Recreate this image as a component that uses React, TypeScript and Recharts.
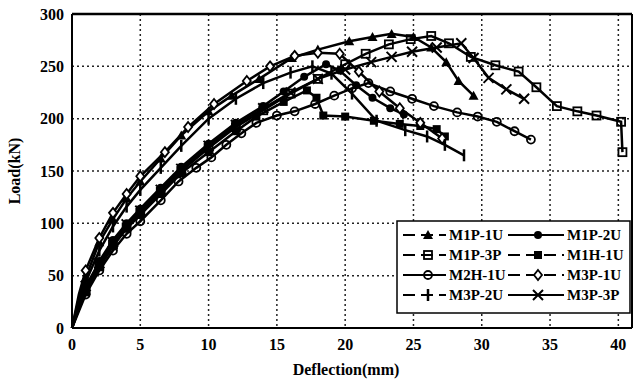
import React from 'react';
import { LineChart, Line, XAxis, YAxis, CartesianGrid, ReferenceLine } from 'recharts';

type Pt = { x: number; y: number };
const pts = (a: number[][]): Pt[] => a.map(([x, y]) => ({ x, y }));

// deflection (mm), load (kN)
const m1p1u = pts([[0,0],[0.5,28],[1,48],[2,82],[3,104],[4,124],[5,140],[6.5,162],[8,184],[10,207],[11.7,222],[13.7,238],[16.1,258],[18,266],[20.3,274],[22,278],[23.4,281],[25,278],[26.3,268],[27.4,254],[28.3,236],[29.4,222]]);
const m1p2u = pts([[0,0],[0.5,20],[1,38],[2,64],[3,84],[4,100],[5,114],[6.5,134],[8,154],[10,176],[12,196],[14,212],[15.5,226],[17,240],[18.6,252],[19.6,246],[20.8,232],[22,220],[23.3,210],[24.3,204]]);
const m1p3p = pts([[0,0],[0.5,19],[1,36],[2,60],[3,80],[4,96],[5,110],[6.5,130],[8,150],[10,172],[12,192],[14,208],[16,224],[18,238],[20,252],[21.5,262],[23.2,271],[24.8,276],[26.3,279],[27.6,272],[29.2,259],[31,251],[32.7,245],[34,230],[35.5,212],[37,207],[38.4,203],[40.2,197],[40.3,168]]);
const m1h1u = pts([[0,0],[0.5,18],[1,34],[2,58],[3,78],[4,95],[5,108],[6.5,128],[8,148],[10,168],[12,188],[13.5,202],[15.5,216],[17.2,227],[17.9,220],[18.4,203],[20,202],[22.1,198],[24,195],[25.5,193],[26.7,190],[27.3,183]]);
const m2h1u = pts([[0,0],[0.5,16],[1,32],[2,55],[3,74],[4,90],[5,102],[6.5,122],[7.8,140],[9.1,153],[10.2,163],[11.3,175],[12.4,186],[13.5,196],[15,203],[16.3,207],[17.8,214],[19.2,222],[20.5,229],[21.7,234],[23.3,226],[24.9,219],[26.5,212],[28.2,206],[29.7,202],[31.1,197],[32.4,188],[33.6,180]]);
const m3p1u = pts([[0,0],[0.5,32],[1,55],[2,86],[3,110],[4,128],[5,145],[6.8,168],[8.5,192],[10.4,214],[12.8,236],[14.5,250],[16.3,260],[18,263],[19.6,262],[21,245],[22.5,226],[24,210],[25.5,196],[27.1,181]]);
const m3p2u = pts([[0,0],[0.5,24],[1,44],[2,74],[3,97],[4,116],[5,132],[6.5,153],[8,174],[10,200],[12,219],[14,234],[16,244],[17.6,250],[19,243],[20.5,224],[22.3,198],[24.4,189],[26,183],[27.3,175],[28.7,165]]);
const m3p3p = pts([[0,0],[0.5,21],[1,40],[2,62],[3,82],[4,99],[5,112],[6.5,132],[8,152],[10,174],[12,194],[14,210],[16,225],[18,238],[20,247],[21.9,254],[23.4,259],[24.9,264],[26.7,268],[28.5,272],[29.4,258],[30.5,239],[31.8,228],[33.1,219]]);

const xTicks = [0, 5, 10, 15, 20, 25, 30, 35, 40];
const yTicks = [0, 50, 100, 150, 200, 250, 300];
const X_MAX = 41;
const Y_MAX = 300;

type Kind = 'tri' | 'dot' | 'sq' | 'fsq' | 'circ' | 'dia' | 'bar' | 'x';

const FONT = '"Liberation Serif", "Times New Roman", serif';

function Marker({ kind, cx, cy }: { kind: Kind; cx: number; cy: number }) {
  switch (kind) {
    case 'tri':
      return <path d={`M${cx},${cy - 5} L${cx + 5},${cy + 4} L${cx - 5},${cy + 4} Z`} fill='#000' />;
    case 'dot':
      return <circle cx={cx} cy={cy} r={4} fill='#000' />;
    case 'sq':
      return <rect x={cx - 4} y={cy - 4} width={8} height={8} fill='none' stroke='#000' strokeWidth={1.8} />;
    case 'fsq':
      return <rect x={cx - 4} y={cy - 4} width={8} height={8} fill='#000' />;
    case 'circ':
      return <circle cx={cx} cy={cy} r={4} fill='none' stroke='#000' strokeWidth={1.8} />;
    case 'dia':
      return <path d={`M${cx},${cy - 5} L${cx + 4},${cy} L${cx},${cy + 5} L${cx - 4},${cy} Z`} fill='#fff' stroke='#000' strokeWidth={1.8} />;
    case 'bar':
      return <path d={`M${cx},${cy - 6} L${cx},${cy + 6}`} stroke='#000' strokeWidth={2.5} />;
    case 'x':
      return <path d={`M${cx - 5},${cy - 5} L${cx + 5},${cy + 5} M${cx - 5},${cy + 5} L${cx + 5},${cy - 5}`} stroke='#000' strokeWidth={2} />;
  }
  return null;
}

const makeDot = (name: string, kind: Kind) => (p: any) => {
  const key = `${name}-${p.index}`;
  if (p.index < 2 || p.cx == null) return <g key={key} />;
  return (
    <g key={key}>
      <Marker kind={kind} cx={p.cx} cy={p.cy} />
    </g>
  );
};

const series = [
  { name: 'M1P-1U', data: m1p1u, kind: 'tri' as Kind, dash: true },
  { name: 'M1P-2U', data: m1p2u, kind: 'dot' as Kind, dash: false },
  { name: 'M1P-3P', data: m1p3p, kind: 'sq' as Kind, dash: true },
  { name: 'M1H-1U', data: m1h1u, kind: 'fsq' as Kind, dash: true },
  { name: 'M2H-1U', data: m2h1u, kind: 'circ' as Kind, dash: false },
  { name: 'M3P-1U', data: m3p1u, kind: 'dia' as Kind, dash: true },
  { name: 'M3P-2U', data: m3p2u, kind: 'bar' as Kind, dash: true },
  { name: 'M3P-3P', data: m3p3p, kind: 'x' as Kind, dash: false },
].map((s) => ({ ...s, dotFn: makeDot(s.name, s.kind) }));

const margin = { top: 14, right: 5, left: 12, bottom: 26 };
const xDomain = [0, X_MAX];
const yDomain = [0, Y_MAX];
const tickStyle = { fontFamily: FONT, fontWeight: 'bold', fontSize: 16, fill: '#000' };
const titleStyle = { fontFamily: FONT, fontWeight: 'bold', fontSize: 16, fill: '#000' };
const axisLine = { stroke: '#000', strokeWidth: 2 };
const xLabel = { value: 'Deflection(mm)', position: 'bottom', offset: 6, dx: -6, style: titleStyle };
const yLabel = { value: 'Load(kN)', angle: -90, position: 'insideLeft', offset: 2, style: { ...titleStyle, textAnchor: 'middle' } };

function LegendBox() {
  const rows = [15, 35, 55, 75];
  return (
    <svg width={235} height={94} style={{ position: 'absolute', left: 396, top: 220, pointerEvents: 'none' }}>
      <rect x={1} y={1} width={233} height={92} fill='#fff' stroke='#000' strokeWidth={1.5} />
      {series.map((s, i) => {
        const col = i % 2;
        const y = rows[Math.floor(i / 2)];
        const x0 = col === 0 ? 7 : 112;
        const x1 = col === 0 ? 50 : 168;
        const mx = col === 0 ? 32 : 142;
        const tx = col === 0 ? 53 : 171;
        return (
          <g key={s.name}>
            <line x1={x0} x2={x1} y1={y} y2={y} stroke='#000' strokeWidth={2} strokeDasharray={s.dash ? '12 6' : undefined} />
            <Marker kind={s.kind} cx={mx} cy={y} />
            <text x={tx} y={y + 5} fontFamily={FONT} fontWeight='bold' fontSize={15} fill='#000'>
              {s.name}
            </text>
          </g>
        );
      })}
    </svg>
  );
}

export default function App() {
  return (
    <div style={{ position: 'absolute', left: 0, top: 0, width: 637, height: 384, background: '#fff' }}>
      <LineChart width={637} height={384} margin={margin}>
        <CartesianGrid stroke='#222' strokeWidth={1.5} strokeDasharray='2 3' />
        <XAxis
          type='number'
          dataKey='x'
          domain={xDomain}
          ticks={xTicks}
          height={30}
          tickLine={false}
          tickMargin={5}
          axisLine={axisLine}
          tick={tickStyle}
          label={xLabel}
        />
        <YAxis
          type='number'
          domain={yDomain}
          ticks={yTicks}
          width={60}
          tickLine={false}
          tickMargin={2}
          axisLine={axisLine}
          tick={tickStyle}
          label={yLabel}
        />
        <ReferenceLine y={Y_MAX} stroke='#000' strokeWidth={2.5} />
        <ReferenceLine x={X_MAX} stroke='#000' strokeWidth={2} />
        {series.map((s) => (
          <Line
            key={s.name}
            data={s.data}
            dataKey='y'
            type='linear'
            stroke='#000'
            strokeWidth={2.5}
            dot={s.dotFn}
            isAnimationActive={false}
          />
        ))}
      </LineChart>
      <LegendBox />
    </div>
  );
}
